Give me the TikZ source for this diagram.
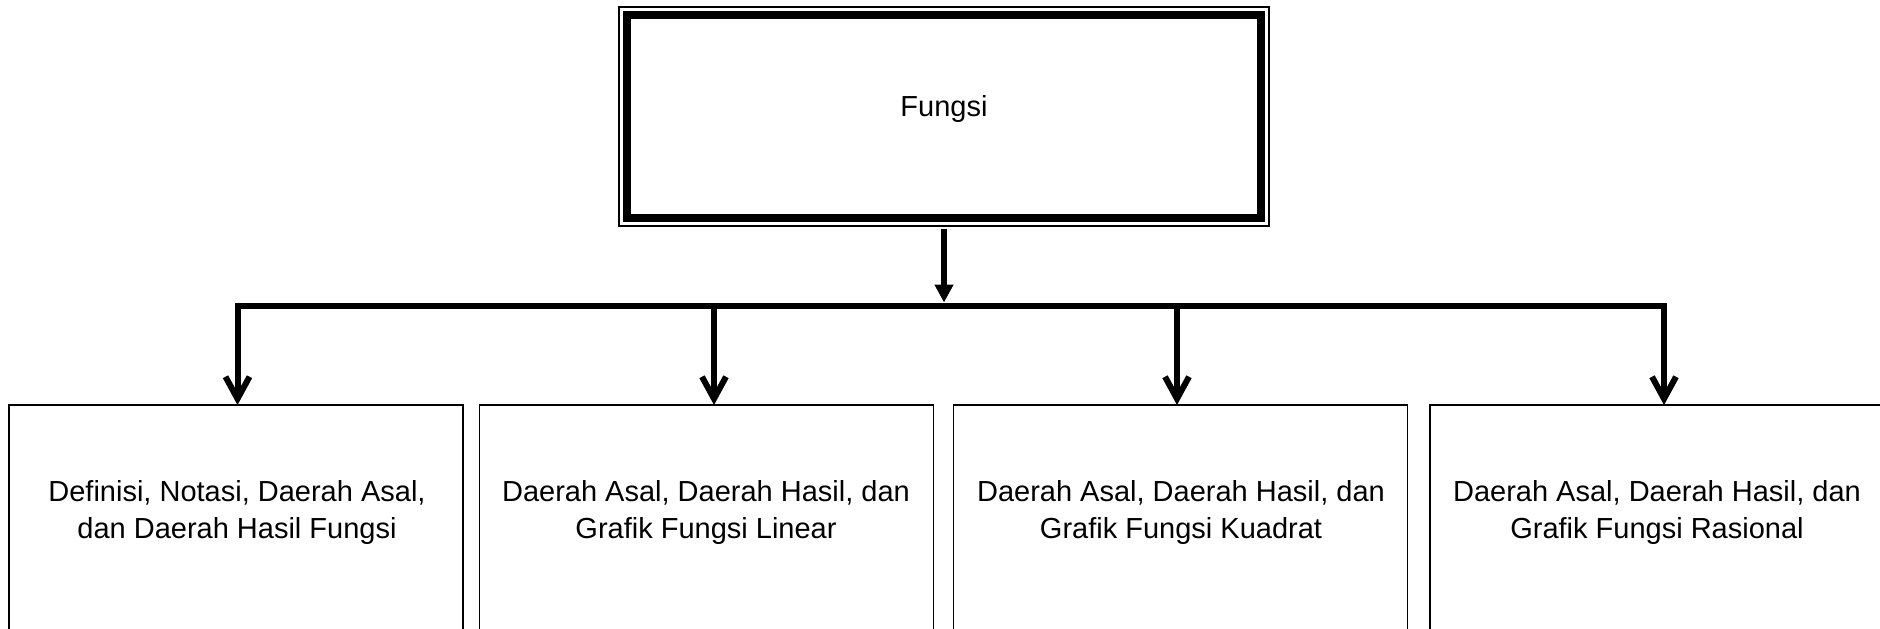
\documentclass[tikz,border=0pt]{standalone}
\usepackage{fontspec}
\setmainfont{Liberation Sans}
\usetikzlibrary{arrows.meta}

\begin{document}
\begin{tikzpicture}[x=0.5pt,y=-0.5pt,font=\fontsize{14.5pt}{18.5pt}\selectfont,
		box/.style={draw,line width=0.6pt,outer sep=0pt,minimum width=227pt,minimum height=200pt,anchor=north},
		lbl/.style={align=center},
		bar/.style={line width=3pt,line cap=rect},
		barb/.style={line width=3pt,-{Straight Barb[width=12pt,length=11pt]}},
		tri/.style={line width=3.3pt,-{Triangle[width=9pt,length=9pt]}}]
				\useasboundingbox (0,0) rectangle (1880,628);
				\clip (0,0) rectangle (1880,628);
				\node[draw,line width=0.6pt,outer sep=0pt,minimum width=325pt,minimum height=109.5pt] (fo) at (944,116.5) {};
				\node[draw,line width=3.8pt,outer sep=0pt,minimum width=317pt,minimum height=101.5pt] (f) at (944,116.5) {};
				\node (fl) at (944,108.7) {Fungsi};
				\node[box] (d1) at (236,405) {};
				\node[box] (d2) at (706.5,405) {};
				\node[box] (d3) at (1180.5,405) {};
				\node[box] (d4) at (1657,405) {};
				\node[lbl] (t1) at (237,512) {Definisi, Notasi, Daerah Asal,\\dan Daerah Hasil Fungsi};
				\node[lbl] (t2) at (706,512) {Daerah Asal, Daerah Hasil, dan\\Grafik Fungsi Linear};
				\node[lbl] (t3) at (1181,512) {Daerah Asal, Daerah Hasil, dan\\Grafik Fungsi Kuadrat};
				\node[lbl] (t4) at (1657,512) {Daerah Asal, Daerah Hasil, dan\\Grafik Fungsi Rasional};
				\coordinate (k) at (944,302.5);
				\coordinate (k1) at (237.5,305.5);
				\coordinate (k2) at (714,305.5);
				\coordinate (k3) at (1177,305.5);
				\coordinate (k4) at (1664,305.5);
				\draw[tri,shorten <=1.5pt] (fo) to (k);
				\draw[bar] (k1) to (k4);
				\draw[barb] (k1) to (k1 |- d1.north);
				\draw[barb] (k2) to (k2 |- d2.north);
				\draw[barb] (k3) to (k3 |- d3.north);
				\draw[barb] (k4) to (k4 |- d4.north);
			\end{tikzpicture}
\end{document}
